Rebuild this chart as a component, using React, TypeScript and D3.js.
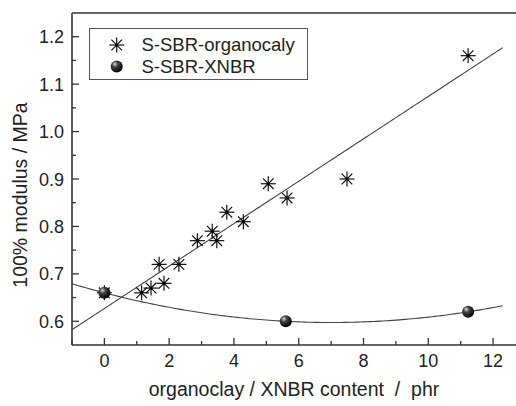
import React, { useRef, useEffect } from 'react';
import * as d3 from 'd3';

// organoclay series
const clayX = [0, 1.15, 1.44, 1.69, 1.84, 2.3, 2.87, 3.33, 3.47, 3.78, 4.29, 5.06, 5.64, 7.49, 11.23];
const clayY = [0.66, 0.66, 0.67, 0.72, 0.68, 0.72, 0.77, 0.79, 0.77, 0.83, 0.81, 0.89, 0.86, 0.90, 1.16];
// XNBR series
const xnbrX = [0, 5.6, 11.23];
const xnbrY = [0.66, 0.6, 0.62];

const xTicks = [0, 2, 4, 6, 8, 10, 12];
const yTicks = [0.6, 0.7, 0.8, 0.9, 1.0, 1.1, 1.2];
const legendLabels = ['S-SBR-organocaly', 'S-SBR-XNBR'];

const W = 516;
const H = 406;
const FONT = 'Arial, "Liberation Sans", sans-serif';

// least squares polynomial fit of given degree
function polyFit(xs: number[], ys: number[], deg: number): number[] {
  const n = deg + 1;
  const A: number[][] = Array.from({ length: n }, () => new Array(n + 1).fill(0));
  xs.forEach((x, k) => {
    for (let i = 0; i < n; i++) {
      for (let j = 0; j < n; j++) A[i][j] += Math.pow(x, i + j);
      A[i][n] += ys[k] * Math.pow(x, i);
    }
  });
  for (let i = 0; i < n; i++) {
    let p = i;
    for (let r = i + 1; r < n; r++) if (Math.abs(A[r][i]) > Math.abs(A[p][i])) p = r;
    [A[i], A[p]] = [A[p], A[i]];
    for (let r = 0; r < n; r++) {
      if (r === i) continue;
      const f = A[r][i] / A[i][i];
      for (let c = i; c <= n; c++) A[r][c] -= f * A[i][c];
    }
  }
  return A.map((row, i) => row[n] / row[i]);
}

const App = () => {
  const svgRef = useRef<SVGSVGElement | null>(null);

  useEffect(() => {
    const svg = d3.select(svgRef.current);
    svg.selectAll('*').remove();

    const left = 72, top = 13, bottom = 345, right = 518;
    const x = d3.scaleLinear().domain([-1, 12.77]).range([left, right]);
    const y = d3.scaleLinear().domain([0.55, 1.25]).range([bottom, top]);

    const defs = svg.append('defs');
    const grad = defs.append('radialGradient').attr('id', 'ball').attr('cx', '35%').attr('cy', '30%').attr('r', '70%');
    grad.append('stop').attr('offset', '0%').attr('stop-color', '#d8d8d8');
    grad.append('stop').attr('offset', '35%').attr('stop-color', '#444');
    grad.append('stop').attr('offset', '100%').attr('stop-color', '#000');

    const axisColor = '#333';

    // frame
    svg.append('line').attr('x1', left).attr('x2', right).attr('y1', top).attr('y2', top)
      .attr('stroke', axisColor).attr('stroke-width', 1.6);
    svg.append('line').attr('x1', left).attr('x2', right).attr('y1', bottom).attr('y2', bottom)
      .attr('stroke', axisColor).attr('stroke-width', 1.6);
    svg.append('line').attr('x1', left).attr('x2', left).attr('y1', top).attr('y2', bottom)
      .attr('stroke', axisColor).attr('stroke-width', 1.6);

    // x ticks (inward)
    const xMinor = d3.range(-1, 13, 1).filter(v => v % 2 !== 0);
    xTicks.forEach(v => {
      svg.append('line').attr('x1', x(v)).attr('x2', x(v)).attr('y1', bottom).attr('y2', bottom - 7)
        .attr('stroke', axisColor).attr('stroke-width', 1.3);
      svg.append('text').attr('x', x(v)).attr('y', 367).attr('text-anchor', 'middle')
        .attr('font-family', FONT).attr('font-size', 18).attr('fill', '#222').text(v);
    });
    xMinor.forEach(v => {
      svg.append('line').attr('x1', x(v)).attr('x2', x(v)).attr('y1', bottom).attr('y2', bottom - 4)
        .attr('stroke', axisColor).attr('stroke-width', 1.3);
    });

    // y ticks (inward)
    yTicks.forEach(v => {
      svg.append('line').attr('x1', left).attr('x2', left + 7).attr('y1', y(v)).attr('y2', y(v))
        .attr('stroke', axisColor).attr('stroke-width', 1.3);
      svg.append('text').attr('x', 64).attr('y', y(v) + 6.5).attr('text-anchor', 'end')
        .attr('font-family', FONT).attr('font-size', 18).attr('fill', '#222').text(v.toFixed(1));
    });
    yTicks.slice(0, -1).forEach(v => {
      const m = v + 0.05;
      svg.append('line').attr('x1', left).attr('x2', left + 4).attr('y1', y(m)).attr('y2', y(m))
        .attr('stroke', axisColor).attr('stroke-width', 1.3);
    });

    // axis titles
    svg.append('text').attr('transform', 'translate(27,195) rotate(-90)').attr('text-anchor', 'middle')
      .attr('font-family', FONT).attr('font-size', 19.5).attr('fill', '#222').text('100% modulus / MPa');
    svg.append('text').attr('x', 294).attr('y', 396).attr('text-anchor', 'middle').attr('xml:space', 'preserve')
      .attr('font-family', FONT).attr('font-size', 19.5).attr('fill', '#222')
      .text('organoclay / XNBR content  /  phr');

    // fit curves
    const lin = polyFit(clayX, clayY, 1);
    const quad = polyFit(xnbrX, xnbrY, 2);
    const xs = d3.range(-1, 12.38 + 0.001, 0.1);
    const line = d3.line<number>().x(d => x(d[0])).y(d => y(d[1])) as any;
    svg.append('path').datum(xs.map(v => [v, lin[0] + lin[1] * v]))
      .attr('d', line).attr('fill', 'none').attr('stroke', '#444').attr('stroke-width', 1.1);
    svg.append('path').datum(xs.map(v => [v, quad[0] + quad[1] * v + quad[2] * v * v]))
      .attr('d', line).attr('fill', 'none').attr('stroke', '#444').attr('stroke-width', 1.1);

    const star = (g: d3.Selection<SVGGElement, unknown, null, undefined>, cx: number, cy: number) => {
      const r = 7.5;
      const s = g.append('g').attr('transform', `translate(${cx},${cy})`);
      [0, 45, 90, 135].forEach(a => {
        const rad = (a * Math.PI) / 180;
        s.append('line').attr('x1', -r * Math.cos(rad)).attr('y1', -r * Math.sin(rad))
          .attr('x2', r * Math.cos(rad)).attr('y2', r * Math.sin(rad))
          .attr('stroke', '#111').attr('stroke-width', 1.2);
      });
      s.append('circle').attr('r', 1.6).attr('fill', '#000');
    };
    const ball = (g: d3.Selection<SVGGElement, unknown, null, undefined>, cx: number, cy: number) => {
      g.append('circle').attr('cx', cx).attr('cy', cy).attr('r', 6).attr('fill', 'url(#ball)');
    };

    const pts = svg.append('g') as d3.Selection<SVGGElement, unknown, null, undefined>;
    clayX.forEach((v, i) => star(pts, x(v), y(clayY[i])));
    xnbrX.forEach((v, i) => ball(pts, x(v), y(xnbrY[i])));

    // legend
    const lg = svg.append('g') as d3.Selection<SVGGElement, unknown, null, undefined>;
    lg.append('rect').attr('x', 89.5).attr('y', 28.5).attr('width', 218).attr('height', 51)
      .attr('fill', 'white').attr('stroke', '#555').attr('stroke-width', 1);
    star(lg, 116.7, 45);
    ball(lg, 116.7, 66.5);
    legendLabels.forEach((t, i) => {
      lg.append('text').attr('x', 141.5).attr('y', 51 + i * 21.5)
        .attr('font-family', FONT).attr('font-size', 18.5).attr('fill', '#222').text(t);
    });
  }, []);

  return (
    <svg ref={svgRef} width={W} height={H}
      style={{ position: 'absolute', left: 0, top: 0, background: 'white' }} />
  );
};

export default App;
